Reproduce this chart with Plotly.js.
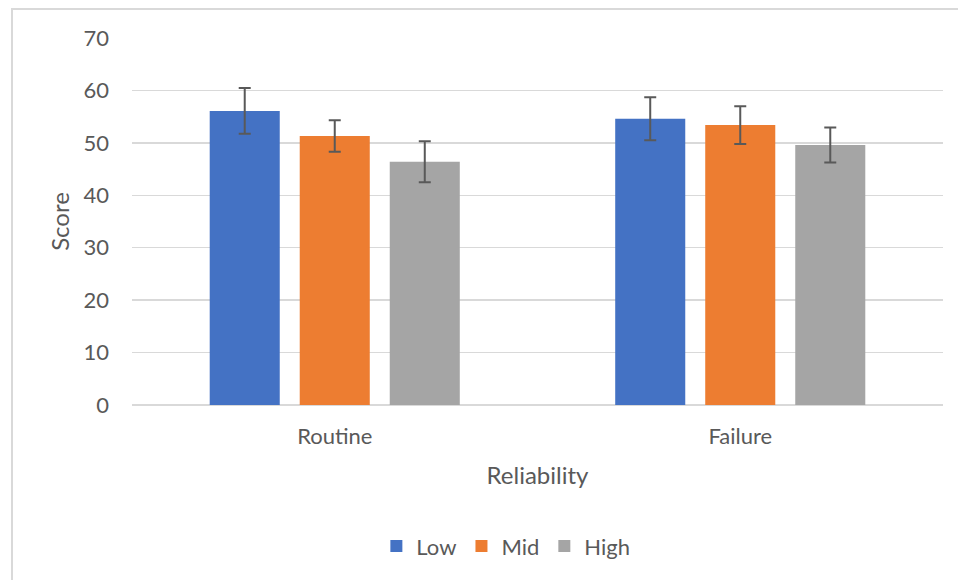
<!DOCTYPE html>
<html>
<head>
<meta charset="utf-8">
<script src="https://cdn.plot.ly/plotly-3.0.1.min.js"></script>
<style>
  html, body { margin: 0; padding: 0; background: #fff; }
  #wrap { position: relative; width: 958px; height: 580px; overflow: hidden; }
  #chart { width: 958px; height: 580px; }
  #frame { position: absolute; left: 11px; top: 8px; width: 960px; height: 600px;
           border-left: 2px solid #d9d9d9; border-top: 2px solid #d9d9d9; pointer-events: none; }
</style>
</head>
<body>
<div id="wrap">
  <div id="chart"></div>
  <div id="frame"></div>
</div>
<script>
const categories = ["Routine", "Failure"];
const seriesNames = ["Low", "Mid", "High"];
const lowValues = [56.1, 54.6];
const midValues = [51.3, 53.4];
const highValues = [46.4, 49.6];
const lowErrors = [4.35, 4.1];
const midErrors = [3.0, 3.6];
const highErrors = [3.9, 3.35];
const colors = ["#4472C4", "#ED7D31", "#A5A5A5"];

const values = [lowValues, midValues, highValues];
const errors = [lowErrors, midErrors, highErrors];

const font = "Lato, 'Open Sans', sans-serif";
const textColor = "#595959";

const traces = seriesNames.map((name, i) => ({
  type: "bar",
  name: name,
  x: categories,
  y: values[i],
  marker: { color: colors[i] },
  error_y: { type: "data", array: errors[i], visible: true, color: "#595959", thickness: 2, width: 6 },
  hoverinfo: "none"
}));

const layout = {
  width: 958, height: 580,
  margin: { l: 132, r: 15, t: 37.5, b: 175 },
  paper_bgcolor: "#ffffff",
  plot_bgcolor: "#ffffff",
  barmode: "group",
  bargap: 0.334,
  bargroupgap: 0.222,
  font: { family: font, color: textColor, size: 22 },
  xaxis: {
    title: { text: "Reliability", font: { size: 24, color: textColor }, standoff: 19 },
    tickfont: { size: 22, color: textColor },
    showgrid: false, showline: false, ticks: "", ticklabelstandoff: 16
  },
  yaxis: {
    title: { text: "Score", font: { size: 24, color: textColor }, standoff: 7 },
    range: [0, 70], dtick: 10,
    tickfont: { size: 22, color: textColor },
    gridcolor: "#d9d9d9", gridwidth: 1.5,
    zeroline: true, zerolinecolor: "#d9d9d9", zerolinewidth: 1.5,
    showline: false, ticks: "", ticklabelstandoff: 22
  },
  legend: {
    orientation: "h", x: 0.461, xanchor: "center", y: -0.385, yanchor: "middle",
    font: { size: 22, color: textColor }, itemwidth: 30, traceorder: "normal"
  },
  showlegend: true
};

Plotly.newPlot("chart", traces, layout, { displayModeBar: false, staticPlot: true });
</script>
</body>
</html>
